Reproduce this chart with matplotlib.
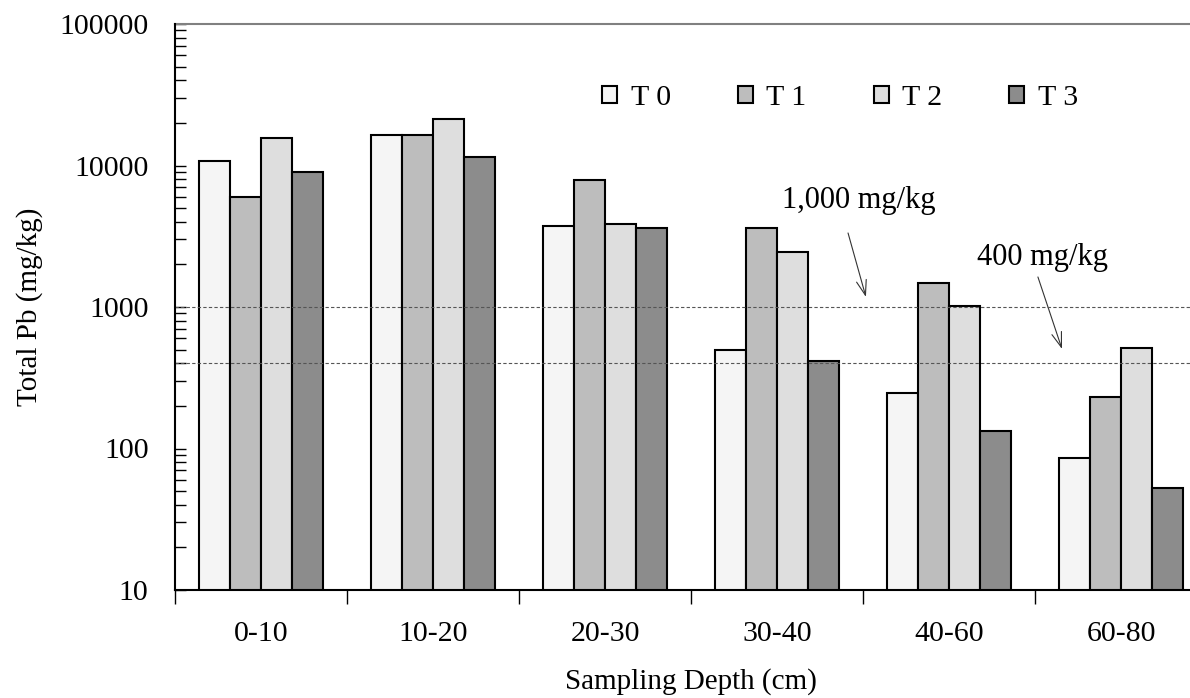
import numpy as np
import matplotlib
matplotlib.use('Agg')
import matplotlib.pyplot as plt
from matplotlib.ticker import FixedLocator, LogLocator, NullFormatter, FuncFormatter

plt.rcParams['font.family'] = ['Liberation Serif', 'DejaVu Serif']

depths = ['0-10', '10-20', '20-30', '30-40', '40-60', '60-80']
series = ['T 0', 'T 1', 'T 2', 'T 3']
t0 = [10700, 16400, 3730, 495, 245, 85]
t1 = [5960, 16400, 7900, 3610, 1470, 230]
t2 = [15600, 21200, 3840, 2440, 1020, 512]
t3 = [8930, 11400, 3640, 412, 132, 53]
colors = ['#f5f5f5', '#bdbdbd', '#dedede', '#8c8c8c']
limits = [1000, 400]

fig = plt.figure(figsize=(11.9, 6.98), dpi=100)
ax = fig.add_axes([175 / 1190, 1 - 590 / 698, 1032 / 1190, 566 / 698])

x = np.arange(len(depths))
bw = 0.18
for k, vals in enumerate([t0, t1, t2, t3]):
    ax.bar(x + (k - 1.5) * bw, vals, bw, color=colors[k], edgecolor='black',
           linewidth=1.5, label=series[k], zorder=3)

# guide lines run over the bars
for v in limits:
    ax.axhline(v, color='#555555', lw=0.8, ls=(0, (3, 2)), zorder=4)

ax.set_yscale('log')
ax.set_ylim(10, 100000)
ax.set_xlim(-0.5, len(depths) - 0.5)

ax.yaxis.set_major_locator(FixedLocator([10, 100, 1000, 10000, 100000]))
ax.yaxis.set_major_formatter(FuncFormatter(lambda v, p: '%d' % v))
ax.yaxis.set_minor_locator(LogLocator(base=10, subs=np.arange(2, 10)))
ax.yaxis.set_minor_formatter(NullFormatter())
ax.tick_params(axis='y', which='both', direction='in', length=8, width=1, pad=19,
               labelsize=21.5)

ax.xaxis.set_major_locator(FixedLocator(np.arange(-0.5, len(depths), 1.0)))
ax.xaxis.set_major_formatter(NullFormatter())
ax.xaxis.set_minor_locator(FixedLocator(x))
ax.set_xticklabels(depths, minor=True)
ax.tick_params(axis='x', which='major', direction='out', length=10, width=1)
ax.tick_params(axis='x', which='minor', length=0, pad=22, labelsize=21.5)

for s in ['left', 'bottom']:
    ax.spines[s].set_linewidth(1.5)
    ax.spines[s].set_zorder(5)
ax.spines['top'].set_color('#808080')
ax.spines['top'].set_linewidth(1.5)
ax.spines['right'].set_visible(False)

ax.set_xlabel('Sampling Depth (cm)', fontsize=21)
ax.xaxis.set_label_coords(0.5, -0.162)
ax.xaxis.label.set_va('center')
ax.set_ylabel('Total Pb (mg/kg)', fontsize=21)
ax.yaxis.set_label_coords(-0.1405, 0.5)
ax.yaxis.label.set_va('center')

arrow = dict(arrowstyle='->,head_length=0.9,head_width=0.3', lw=0.8,
             color='#333333', mutation_scale=12, shrinkA=0, shrinkB=0)
ax.text(3.03, 5700, '1,000 mg/kg', fontsize=22, ha='left', va='center')
ax.annotate('', xy=(3.517, 1178), xytext=(3.413, 3335), arrowprops=arrow)
ax.text(4.163, 2220, '400 mg/kg', fontsize=22, ha='left', va='center')
ax.annotate('', xy=(4.657, 505), xytext=(4.517, 1630), arrowprops=arrow)

fig.legend(loc='center', bbox_to_anchor=(840 / 1190, 1 - 98 / 698), ncol=4,
           frameon=False, fontsize=21.5, handlelength=0.5, handleheight=0.5,
           handletextpad=0.45, columnspacing=2.25)

fig.savefig('out.png', dpi=100)
